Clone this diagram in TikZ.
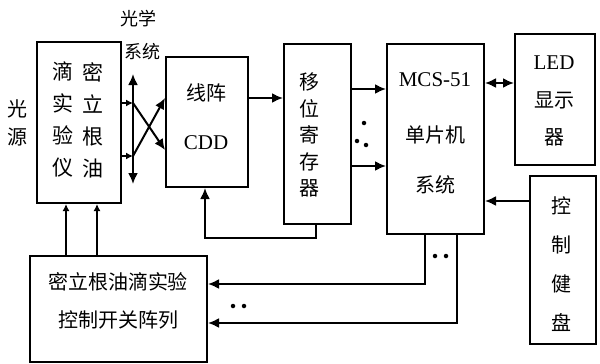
\documentclass[tikz,border=0pt]{standalone}
\usepackage{fontspec}
\setmainfont{Liberation Serif}
\newfontfamily\cjk{Noto Sans CJK SC}
\usetikzlibrary{arrows.meta}
\begin{document}
\begin{tikzpicture}[x=1pt,y=-1pt,
  box/.style={draw,line width=2pt,inner sep=0pt,anchor=north west},
  conn/.style={line width=2pt},
  arr/.style={conn,-{Latex[length=11pt,width=10pt]}},
  sarr/.style={conn,-{Latex[length=7pt,width=7pt]}},
  darr/.style={conn,{Latex[length=11pt,width=10pt]}-{Latex[length=11pt,width=10pt]}},
  zh/.style={font=\cjk\fontsize{20}{20}\selectfont,inner sep=0pt,align=center},
  la/.style={font=\fontsize{21}{21}\selectfont,inner sep=0pt},
  dotc/.style={circle,fill,inner sep=0pt,minimum size=4.5pt}]
\useasboundingbox (0,0) rectangle (600,364);
% boxes
\node[box,minimum width=84pt,minimum height=161pt] (exp) at (36,41) {};
\node[box,minimum width=82pt,minimum height=130pt] (cdd) at (165,56) {};
\node[box,minimum width=67pt,minimum height=180pt] (sr) at (283,43) {};
\node[box,minimum width=97pt,minimum height=190pt] (mcs) at (386,43) {};
\node[box,minimum width=80pt,minimum height=131pt] (led) at (514,33) {};
\node[box,minimum width=66pt,minimum height=168pt] (kb) at (529,175) {};
\node[box,minimum width=177pt,minimum height=106pt] (ctl) at (29,255) {};
% texts
\node[zh,font=\cjk\fontsize{21}{32}\selectfont] (t1) at (93,120) {密\\立\\根\\油};
\node[zh,font=\cjk\fontsize{21}{32}\selectfont] (t2) at (63,119) {滴\\实\\验\\仪};
\node[zh,font=\cjk\fontsize{20}{28}\selectfont] (ls) at (17,123) {光\\源};
\node[zh,font=\cjk\fontsize{18}{18}\selectfont] (os1) at (138,19) {光学};
\node[zh,font=\cjk\fontsize{18}{18}\selectfont] (os2) at (142,52) {系统};
\node[zh] (c1) at (206,93) {线阵};
\node[la] (c2) at (206,143) {CDD};
\node[zh,font=\cjk\fontsize{20}{26.5}\selectfont] (s1) at (309,135) {移\\位\\寄\\存\\器};
\node[la] (m1) at (435,80) {MCS-51};
\node[zh] (m2) at (435,135) {单片机};
\node[zh] (m3) at (435,185) {系统};
\node[la] (l1) at (554,63) {LED};
\node[zh] (l2) at (554,100) {显示};
\node[zh] (l3) at (554,137) {器};
\node[zh,font=\cjk\fontsize{20}{39}\selectfont] (k1) at (561,264) {控\\制\\健\\盘};
\node[zh] (q1) at (118,282) {密立根油滴实验};
\node[zh] (q2) at (118,320) {控制开关阵列};
% optical system
\coordinate (oa) at (133,103);
\coordinate (ob) at (133,156);
\coordinate (otop) at (133,74);
\coordinate (obot) at (133,184);
\draw[darr] (otop) -- (obot);
\draw[sarr] (exp.east |- oa) -- (oa);
\draw[sarr] (exp.east |- ob) -- (ob);
\draw[arr] (oa) -- (cdd.west |- 0,150);
\draw[arr] (ob) -- (cdd.west |- 0,98);
% data path
\draw[arr] (cdd.east |- 0,98) -- (sr.west |- 0,98);
\draw[arr] (sr.east |- 0,89) -- (mcs.west |- 0,89);
\draw[arr] (sr.east |- 0,166) -- (mcs.west |- 0,166);
\node[dotc] (d1) at (364,123) {};
\node[dotc] (d2) at (357,141) {};
\node[dotc] (d3) at (366,145) {};
\draw[darr] (mcs.east |- 0,83) -- (led.west |- 0,83);
\draw[arr] (kb.west |- 0,201) -- (mcs.east |- 0,201);
% feedback to CDD
\draw[arr] (sr.south -| 316,0) -- (316,238) -- (205,238) -- (cdd.south -| 205,0);
% MCS to control array
\draw[arr] (mcs.south -| 425,0) -- (425,284) -- (ctl.east |- 0,284);
\draw[arr] (mcs.south -| 457,0) -- (457,323) -- (ctl.east |- 0,323);
\node[dotc] (d4) at (435,256) {};
\node[dotc] (d5) at (446,256) {};
\node[dotc] (d6) at (233,306) {};
\node[dotc] (d7) at (244,306) {};
% control array to experiment
\draw[sarr] (ctl.north -| 66,0) -- (exp.south -| 66,0);
\draw[sarr] (ctl.north -| 97,0) -- (exp.south -| 97,0);
\end{tikzpicture}
\end{document}
